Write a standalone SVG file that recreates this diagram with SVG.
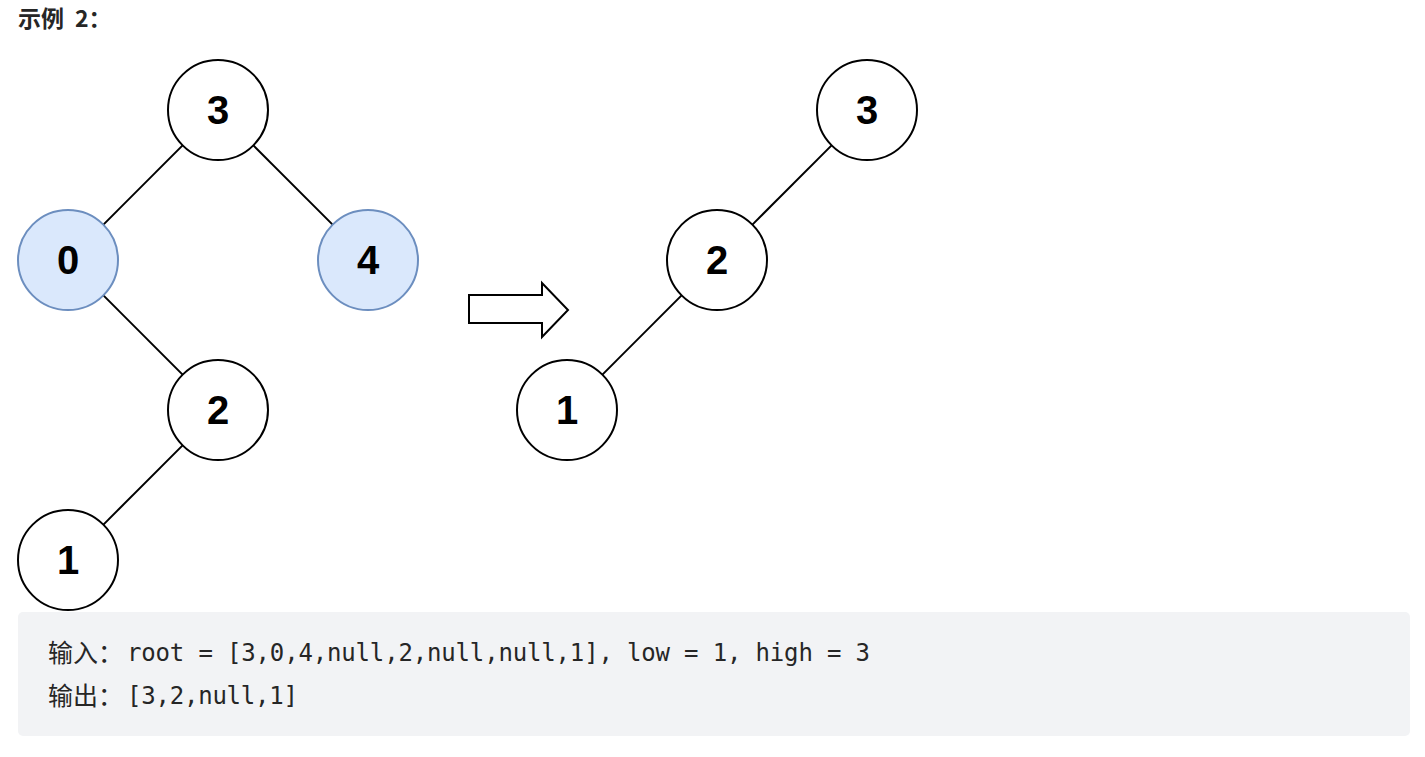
<svg xmlns="http://www.w3.org/2000/svg" width="1425" height="757" viewBox="0 0 1425 757">
<style>
.n{fill:#ffffff;stroke:#000000;stroke-width:2}
.hl{fill:#dae8fc;stroke:#6c8ebf;stroke-width:2}
.lbl{font-family:"Liberation Sans",Arial,sans-serif;font-weight:bold;font-size:40px;fill:#000000;text-anchor:middle}
.e{stroke:#000000;stroke-width:2;fill:none}
.cjk{font-family:"Noto Sans CJK SC",sans-serif;font-size:25px;fill:#262626}
.code{font-family:"DejaVu Sans Mono","Liberation Mono",monospace;font-size:24px;fill:#262626}
.title{font-family:"Noto Sans CJK SC",sans-serif;font-weight:bold;font-size:23px;fill:#262626}
</style>
<rect width="1425" height="757" fill="#ffffff"/>
<text class="title" y="27"><tspan x="18">示例</tspan><tspan x="75">2：</tspan></text>
<g id="connectors">
<line class="e" x1="182.6" y1="145.4" x2="103.4" y2="224.6"/>
<line class="e" x1="253.4" y1="145.4" x2="332.6" y2="224.6"/>
<line class="e" x1="103.4" y1="295.4" x2="182.6" y2="374.6"/>
<line class="e" x1="182.6" y1="445.4" x2="103.4" y2="524.6"/>
<line class="e" x1="831.6" y1="145.4" x2="752.4" y2="224.6"/>
<line class="e" x1="681.6" y1="295.4" x2="602.4" y2="374.6"/>
</g>
<g id="l3"><circle class="n" cx="218" cy="110" r="50"/><text class="lbl" x="218" y="124">3</text></g>
<g id="l0"><circle class="hl" cx="68" cy="260" r="50"/><text class="lbl" x="68" y="274">0</text></g>
<g id="l4"><circle class="hl" cx="368" cy="260" r="50"/><text class="lbl" x="368" y="274">4</text></g>
<g id="l2"><circle class="n" cx="218" cy="410" r="50"/><text class="lbl" x="218" y="424">2</text></g>
<g id="l1"><circle class="n" cx="68" cy="560" r="50"/><text class="lbl" x="68" y="574">1</text></g>
<g id="arrow"><polygon points="469,295 542,295 542,283 568,310 542,337 542,323 469,323" fill="#ffffff" stroke="#000000" stroke-width="2"/></g>
<g id="r3"><circle class="n" cx="867" cy="110" r="50"/><text class="lbl" x="867" y="124">3</text></g>
<g id="r2"><circle class="n" cx="717" cy="260" r="50"/><text class="lbl" x="717" y="274">2</text></g>
<g id="r1"><circle class="n" cx="567" cy="410" r="50"/><text class="lbl" x="567" y="424">1</text></g>
<g id="codebox">
<rect x="18" y="612" width="1392" height="124" rx="5" fill="#f2f3f5"/>
<text class="cjk" x="48" y="662">输入：</text>
<text class="code" x="127" y="661" textLength="743" lengthAdjust="spacing">root = [3,0,4,null,2,null,null,1], low = 1, high = 3</text>
<text class="cjk" x="48" y="705">输出：</text>
<text class="code" x="127" y="704" textLength="171" lengthAdjust="spacing">[3,2,null,1]</text>
</g>
</svg>
